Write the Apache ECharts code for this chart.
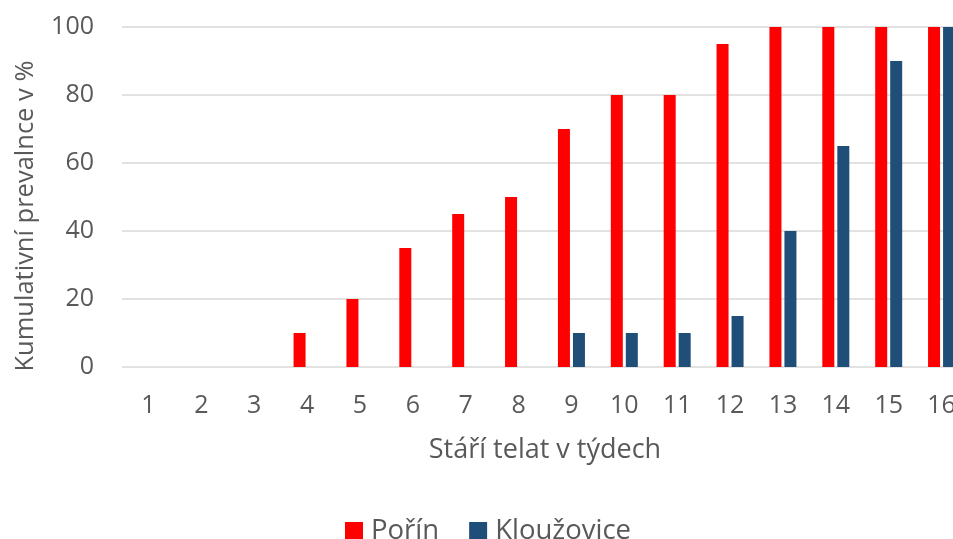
<!DOCTYPE html>
<html><head><meta charset="utf-8">
<script src="https://cdn.jsdelivr.net/npm/echarts@6/dist/echarts.min.js"></script>
<style>html,body{margin:0;padding:0;background:#fff}#c{width:953px;height:539px}</style>
</head><body><div id="c"></div>
<script>
const categories = ['1','2','3','4','5','6','7','8','9','10','11','12','13','14','15','16'];
const porin = [0,0,0,10,20,35,45,50,70,80,80,95,100,100,100,100];
const klouzovice = [0,0,0,0,0,0,0,0,10,10,10,15,40,65,90,100];
const seriesNames = ['Pořín','Kloužovice'];
const yTitle = 'Kumulativní prevalnce v %';
const xTitle = 'Stáří telat v týdech';

const font = 'Open Sans';
const txt = '#595959';
const chart = echarts.init(document.getElementById('c'));
chart.setOption({
  animation:false,
  textStyle:{fontFamily:font},
  grid:{left:122,right:-15,top:27,bottom:172,outerBoundsMode:'none',containLabel:false},
  legend:{top:512,left:340,itemWidth:18,itemHeight:18,itemGap:30,icon:'rect',
    textStyle:{fontFamily:font,fontSize:27.5,color:txt,padding:[0,0,0,3]},data:seriesNames},
  xAxis:{type:'category',data:categories,
    axisLine:{show:false},axisTick:{show:false},
    axisLabel:{fontFamily:font,fontSize:25,color:txt,margin:26},
    name:xTitle,nameLocation:'middle',nameGap:70,
    nameTextStyle:{fontFamily:font,fontSize:27,color:txt}},
  yAxis:{type:'value',min:0,max:100,interval:20,
    axisLine:{show:false},axisTick:{show:false},
    axisLabel:{fontFamily:font,fontSize:25,color:txt,margin:28},
    splitLine:{lineStyle:{color:'#d9d9d9',width:1.5}},
    name:yTitle,nameLocation:'middle',nameGap:83,
    nameTextStyle:{fontFamily:font,fontSize:25.5,color:txt,padding:[0,38,0,0]}},
  series:[
    {name:seriesNames[0],type:'bar',data:porin,barWidth:12,barGap:'25%',itemStyle:{color:'#ff0000'}},
    {name:seriesNames[1],type:'bar',data:klouzovice,barWidth:12,barGap:'25%',itemStyle:{color:'#1f4e79'}}
  ]
});
</script></body></html>
